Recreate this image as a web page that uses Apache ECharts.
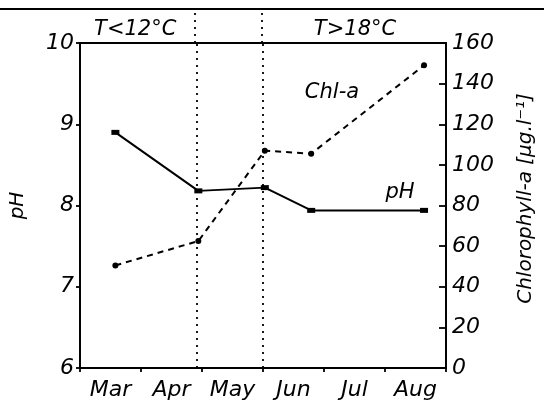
<!DOCTYPE html>
<html>
<head>
<meta charset="utf-8">
<script src="https://cdn.jsdelivr.net/npm/echarts@6/dist/echarts.min.js"></script>
<style>
  html, body { margin: 0; padding: 0; background: #fff; }
  #chart { width: 544px; height: 405px; }
</style>
</head>
<body>
<div id="chart"></div>
<script>
// Month categories along the bottom axis
const months = ['Mar', 'Apr', 'May', 'Jun', 'Jul', 'Aug'];
// Sampling dates as fractional month positions (0 = start of March)
const samplePos = [0.58, 1.94, 3.03, 3.79, 5.64];
// pH at each sampling date
const pHValues = [8.90, 8.18, 8.22, 7.94, 7.94];
// Chlorophyll-a concentration (µg/l) at each sampling date
const chlValues = [50.5, 62.5, 107, 105.5, 149];
// Temperature period boundaries (fractional month positions)
const periodBounds = [1.91, 3.0];
const periodNames = ['T<12°C', 'T>18°C'];

const FONT = 'DejaVu Sans';
const txt = { fontFamily: FONT, fontStyle: 'italic', color: '#000' };
const AXIS_W = 1.8;

const chart = echarts.init(document.getElementById('chart'), null, { renderer: 'canvas' });

const dotted = { color: '#000', width: 1.8, type: [2, 5] };

chart.setOption({
  backgroundColor: '#fff',
  animation: false,
  grid: [
    { left: 76, right: 96, top: 43, bottom: 37, show: true, borderColor: '#000', borderWidth: AXIS_W, backgroundColor: 'transparent' },
    { left: 76, right: 96, top: 9, height: 34 }
  ],
  xAxis: [
    {
      type: 'category', gridIndex: 0, data: months, boundaryGap: true,
      axisLine: { lineStyle: { color: '#000', width: AXIS_W } },
      axisTick: { show: true, inside: false, length: 4, lineStyle: { color: '#000', width: AXIS_W } },
      axisLabel: Object.assign({ fontSize: 22, margin: 11 }, txt)
    },
    { type: 'value', gridIndex: 0, min: 0, max: 6, show: false },
    { type: 'value', gridIndex: 1, min: 0, max: 6, show: false }
  ],
  yAxis: [
    {
      type: 'value', gridIndex: 0, position: 'left', min: 6, max: 10, interval: 1,
      name: 'pH', nameLocation: 'middle', nameGap: 52, nameRotate: 90,
      nameTextStyle: Object.assign({ fontSize: 20 }, txt),
      axisLine: { show: true, lineStyle: { color: '#000', width: AXIS_W } },
      axisTick: { show: true, inside: false, length: 4, lineStyle: { color: '#000', width: AXIS_W } },
      axisLabel: Object.assign({ fontSize: 22, margin: 6 }, txt),
      splitLine: { show: false }
    },
    {
      type: 'value', gridIndex: 0, position: 'right', min: 0, max: 160, interval: 20,
      name: 'Chlorophyll-a [μg.l⁻¹]', nameLocation: 'middle', nameGap: 70, nameRotate: 90,
      nameTextStyle: Object.assign({ fontSize: 20, padding: [0, 0, 0, 14] }, txt),
      axisLine: { show: true, lineStyle: { color: '#000', width: AXIS_W } },
      axisTick: { show: true, inside: true, length: 7, lineStyle: { color: '#000', width: AXIS_W } },
      axisLabel: Object.assign({ fontSize: 22, margin: 6 }, txt),
      splitLine: { show: false }
    },
    { type: 'value', gridIndex: 1, min: 0, max: 1, show: false }
  ],
  graphic: [
    { type: 'line', shape: { x1: 0, y1: 9, x2: 544, y2: 9 }, style: { stroke: '#000', lineWidth: AXIS_W }, silent: true },
    { type: 'text', x: 332, y: 93, style: { text: 'Chl-a', font: 'italic 21px "DejaVu Sans"', fill: '#000', textAlign: 'center', textVerticalAlign: 'middle' } },
    { type: 'text', x: 400, y: 193, style: { text: 'pH', font: 'italic 21px "DejaVu Sans"', fill: '#000', textAlign: 'center', textVerticalAlign: 'middle' } }
  ],
  series: [
    {
      // period boundaries and labels in the header band
      type: 'line', xAxisIndex: 2, yAxisIndex: 2, data: [], silent: true,
      markLine: {
        silent: true, symbol: 'none', label: { show: false },
        lineStyle: dotted,
        data: periodBounds.map(v => ({ xAxis: v }))
      },
      markArea: {
        silent: true, itemStyle: { color: 'transparent' },
        label: Object.assign({ position: 'inside', fontSize: 21, offset: [0, 4] }, txt),
        data: [
          [{ name: periodNames[0], xAxis: 0 }, { xAxis: periodBounds[0] }],
          [{ name: periodNames[1], xAxis: periodBounds[1] }, { xAxis: 6 }]
        ]
      }
    },
    {
      name: 'pH', type: 'line', xAxisIndex: 1, yAxisIndex: 0,
      data: samplePos.map((x, i) => [x, pHValues[i]]),
      symbol: 'rect', symbolSize: [8, 5], showAllSymbol: true,
      lineStyle: { color: '#000', width: 2 },
      itemStyle: { color: '#000' },
      markLine: {
        silent: true, symbol: 'none', label: { show: false },
        lineStyle: dotted,
        data: periodBounds.map(v => ({ xAxis: v }))
      }
    },
    {
      name: 'Chl-a', type: 'line', xAxisIndex: 1, yAxisIndex: 1,
      data: samplePos.map((x, i) => [x, chlValues[i]]),
      symbol: 'circle', symbolSize: 6, showAllSymbol: true,
      lineStyle: { color: '#000', width: 2, type: [6, 5] },
      itemStyle: { color: '#000' }
    }
  ]
});
</script>
</body>
</html>
